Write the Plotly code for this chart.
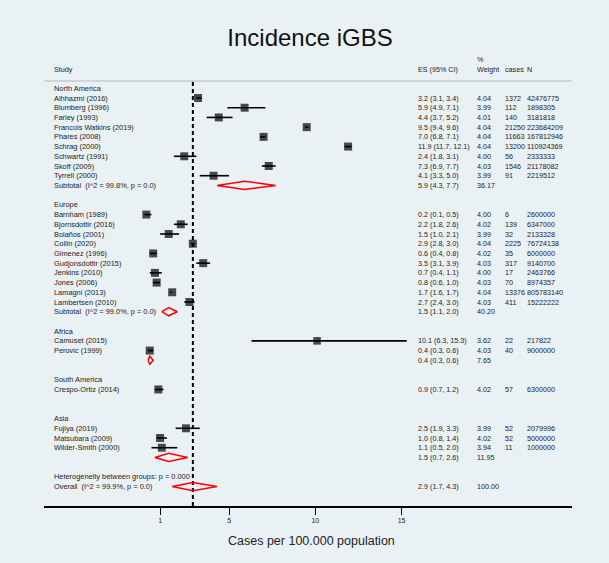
import plotly.graph_objects as go
import numpy as np

# ---------------- data ----------------
groups = ["North America", "Europe", "Africa", "South America", "Asia"]

study = ["Alhhazmi (2016)", "Blumberg (1996)", "Farley (1993)", "Francois Watkins (2019)",
         "Phares (2008)", "Schrag (2000)", "Schwartz (1991)", "Skoff (2009)", "Tyrrell (2000)",
         "Barnham (1989)", "Bjornsdottir (2016)", "Bolaños (2001)", "Collin (2020)",
         "Gimenez (1996)", "Gudjonsdottir (2015)", "Jenkins (2010)", "Jones (2006)",
         "Lamagni (2013)", "Lambertsen (2010)",
         "Camuset (2015)", "Perovic (1999)",
         "Crespo-Ortiz (2014)",
         "Fujiya (2019)", "Matsubara (2009)", "Wilder-Smith (2000)"]
region = (["North America"] * 9 + ["Europe"] * 10 + ["Africa"] * 2 +
          ["South America"] * 1 + ["Asia"] * 3)
es = [3.2, 5.9, 4.4, 9.5, 7.0, 11.9, 2.4, 7.3, 4.1,
      0.2, 2.2, 1.5, 2.9, 0.6, 3.5, 0.7, 0.8, 1.7, 2.7,
      10.1, 0.4,
      0.9,
      2.5, 1.0, 1.1]
ci_lo = [3.1, 4.9, 3.7, 9.4, 6.8, 11.7, 1.8, 6.9, 3.3,
         0.1, 1.8, 1.0, 2.8, 0.4, 3.1, 0.4, 0.6, 1.6, 2.4,
         6.3, 0.3,
         0.7,
         1.9, 0.8, 0.5]
ci_hi = [3.4, 7.1, 5.2, 9.6, 7.1, 12.1, 3.1, 7.7, 5.0,
         0.5, 2.6, 2.1, 3.0, 0.8, 3.9, 1.1, 1.0, 1.7, 3.0,
         15.3, 0.6,
         1.2,
         3.3, 1.4, 2.0]
weight = [4.04, 3.99, 4.01, 4.04, 4.04, 4.04, 4.00, 4.03, 3.99,
          4.00, 4.02, 3.99, 4.04, 4.02, 4.03, 4.00, 4.03, 4.04, 4.03,
          3.62, 4.03,
          4.02,
          3.99, 4.02, 3.94]
cases = [1372, 112, 140, 21250, 11663, 13200, 56, 1546, 91,
         6, 139, 32, 2225, 35, 317, 17, 70, 13376, 411,
         22, 40,
         57,
         52, 52, 11]
pop_n = [42476775, 1898305, 3181818, 223684209, 167812946, 110924369, 2333333, 21178082, 2219512,
         2600000, 6347000, 2133328, 76724138, 6000000, 9140700, 2463766, 8974357, 805783140, 15222222,
         217822, 9000000,
         6300000,
         2079996, 5000000, 1000000]

# subtotals per group (None = no subtotal drawn)
sub_label = ["Subtotal\u00a0\u00a0(I^2 = 99.8%, p = 0.0)", "Subtotal\u00a0\u00a0(I^2 = 99.0%, p = 0.0)", "", None, ""]
sub_es = [5.9, 1.5, 0.4, None, 1.5]
sub_lo = [4.3, 1.1, 0.3, None, 0.7]
sub_hi = [7.7, 2.0, 0.6, None, 2.6]
sub_weight = [36.17, 40.20, 7.65, None, 11.95]

het_label = "Heterogeneity between groups: p = 0.000"
overall_label = "Overall\u00a0\u00a0(I^2 = 99.9%, p = 0.0)"
overall_es, overall_lo, overall_hi, overall_weight = 2.9, 1.7, 4.3, 100.00

x_ticks = [1, 5, 10, 15]
x_title = "Cases per 100.000 population"
title = "Incidence iGBS"

# ---------------- layout constants ----------------
W, H = 609, 563
ML, MR, MT, MB = 44, 37, 81, 57
PW, PH = W - ML - MR, H - MT - MB
X_RANGE = [-5.73, 24.88]
Y_RANGE = [43.0, -0.75]
BG = "#eaf1f4"
FONT = "Liberation Sans, Arial, sans-serif"
TXT = "#222222"
FS = 7.4
FS_COL = 7.2


def px_x(p):
    return (p - ML) / PW


def px_y(p):
    return (H - MB - p) / PH


col_label, col_es, col_w, col_cases, col_n = 52, 416, 475, 503, 524.5

# ---------------- rows ----------------
study_rows = []
annotations = []


def add_text(txt, xpx, row, size=FS, color=TXT):
    annotations.append(dict(text=txt, x=px_x(xpx), y=row, xref="paper", yref="y",
                            xanchor="left", yanchor="middle", showarrow=False,
                            font=dict(family=FONT, size=size, color=color)))


diamonds = []  # (es, lo, hi, row)
row = 0
for gi, g in enumerate(groups):
    add_text(g, col_label, row)
    row += 1
    for i in range(len(study)):
        if region[i] != g:
            continue
        study_rows.append(row)
        add_text(study[i], col_label, row)
        add_text(f"{es[i]:.1f} ({ci_lo[i]:.1f}, {ci_hi[i]:.1f})", col_es, row, FS_COL)
        add_text(f"{weight[i]:.2f}", col_w, row, FS_COL)
        add_text(str(cases[i]), col_cases, row, FS_COL)
        add_text(str(pop_n[i]), col_n, row, FS_COL)
        row += 1
    if sub_es[gi] is not None:
        if sub_label[gi]:
            add_text(sub_label[gi], col_label, row)
        add_text(f"{sub_es[gi]:.1f} ({sub_lo[gi]:.1f}, {sub_hi[gi]:.1f})", col_es, row, FS_COL)
        add_text(f"{sub_weight[gi]:.2f}", col_w, row, FS_COL)
        diamonds.append((sub_es[gi], sub_lo[gi], sub_hi[gi], row))
    row += 2

add_text(het_label, col_label, row)
row += 1
add_text(overall_label, col_label, row)
add_text(f"{overall_es:.1f} ({overall_lo:.1f}, {overall_hi:.1f})", col_es, row, FS_COL)
add_text(f"{overall_weight:.2f}", col_w, row, FS_COL)
diamonds.append((overall_es, overall_lo, overall_hi, row))

# header
hdr_y = px_y(69.3)
pct_y = px_y(59.5)
for txt, xp, yy in [("Study", col_label, hdr_y), ("ES (95% CI)", col_es, hdr_y),
                    ("%", col_w, pct_y), ("Weight", col_w, hdr_y),
                    ("cases", col_cases, hdr_y), ("N", col_n, hdr_y)]:
    annotations.append(dict(text=txt, x=px_x(xp), y=yy, xref="paper", yref="paper",
                            xanchor="left", yanchor="middle", showarrow=False,
                            font=dict(family=FONT, size=FS_COL, color=TXT)))

# axis title
annotations.append(dict(text=x_title, x=px_x(311), y=px_y(540.5), xref="paper", yref="paper",
                        xanchor="center", yanchor="middle", showarrow=False,
                        font=dict(family=FONT, size=12.5, color=TXT)))

# ---------------- traces ----------------
fig = go.Figure()

es_a = np.array(es)
fig.add_trace(go.Scatter(
    x=es, y=study_rows, mode="markers",
    marker=dict(symbol="square", color="black",
                size=[8.0 * np.sqrt(w / 4.04) for w in weight], line=dict(width=0)),
    error_x=dict(type="data", symmetric=False,
                 array=list(np.array(ci_hi) - es_a), arrayminus=list(es_a - np.array(ci_lo)),
                 color="black", thickness=1.6, width=0),
    hoverinfo="skip", showlegend=False))

dx, dy = [], []
half = 0.42
for e, lo, hi, r in diamonds:
    dx += [lo, e, hi, e, lo, None]
    dy += [r, r - half, r, r + half, r, None]
fig.add_trace(go.Scatter(x=dx, y=dy, mode="lines", line=dict(color="#ff0000", width=1.5),
                         hoverinfo="skip", showlegend=False))

shapes = [
    dict(type="line", xref="x", yref="paper", x0=overall_es, x1=overall_es, y0=0, y1=1,
         line=dict(color="black", width=2, dash="4px,3px"), layer="below"),
    dict(type="line", xref="paper", yref="paper", x0=0, x1=1, y0=1, y1=1,
         line=dict(color="#c5ccd0", width=1.5), layer="below"),
]

fig.update_layout(
    width=W, height=H,
    margin=dict(l=ML, r=MR, t=MT, b=MB),
    paper_bgcolor=BG, plot_bgcolor=BG,
    title=dict(text=title, x=310 / W, xref="container", xanchor="center",
               y=1 - 38 / H, yref="container", yanchor="middle",
               font=dict(family=FONT, size=24, color="#111111")),
    xaxis=dict(range=X_RANGE, showgrid=False, zeroline=False, showline=True,
               linecolor="black", linewidth=1.5, ticks="outside", ticklen=7, tickwidth=1,
               tickcolor="black", tickvals=x_ticks, ticktext=[str(t) for t in x_ticks],
               tickfont=dict(family=FONT, size=7, color=TXT), fixedrange=True),
    yaxis=dict(range=Y_RANGE, showgrid=False, zeroline=False, showline=False,
               showticklabels=False, ticks="", fixedrange=True),
    shapes=shapes,
    annotations=annotations,
    showlegend=False,
)

fig.write_html("out.html", config={"displayModeBar": False},
               post_script="document.body.style.margin='0px';document.body.style.background='%s';" % BG)
